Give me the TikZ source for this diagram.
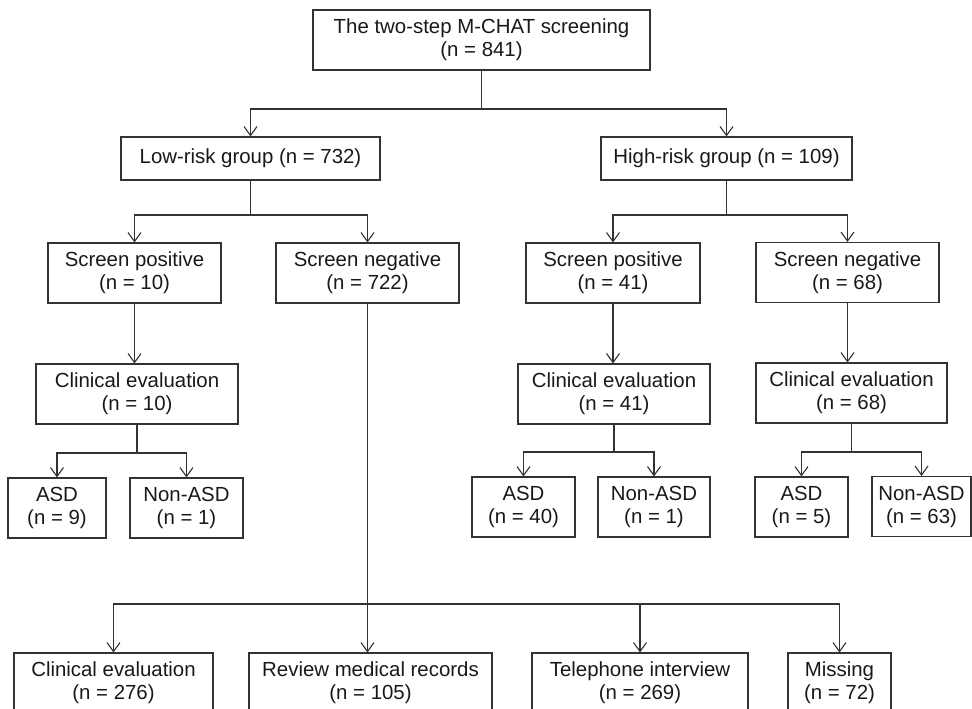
\documentclass[tikz,border=0pt]{standalone}
\usepackage{fontspec}
\setmainfont{Liberation Sans}
\usetikzlibrary{arrows.meta}
\definecolor{linecol}{RGB}{50,50,50}
\begin{document}
\begin{tikzpicture}[x=1pt,y=-1pt,
  box/.style={draw=linecol, line width=1.1pt, rectangle, inner sep=0pt, align=center,
    font=\fontsize{20.4}{23}\selectfont, text=black!90},
  conn/.style={draw=linecol, line width=1.1pt},
  arr/.style={conn, -{Straight Barb[length=9pt,width=13pt,line width=1.1pt]}}]
\useasboundingbox (0,0) rectangle (972,709);
\fill[white] (0,0) rectangle (972,709);
\clip (0,0) rectangle (972,709);

\node[box, minimum width=337pt, minimum height=60pt] (top) at (481.5,40) {The two-step M-CHAT screening\\(n = 841)};
\node[box, minimum width=259pt, minimum height=43pt] (low) at (250.5,158.5) {Low-risk group (n = 732)};
\node[box, minimum width=251pt, minimum height=43pt] (high) at (726.5,158.5) {High-risk group (n = 109)};

\node[box, minimum width=173pt, minimum height=60pt] (spL) at (134.5,273) {Screen positive\\(n = 10)};
\node[box, minimum width=183pt, minimum height=60pt] (snL) at (367.5,273) {Screen negative\\(n = 722)};
\node[box, minimum width=174pt, minimum height=60pt] (spH) at (613,273) {Screen positive\\(n = 41)};
\node[box, minimum width=183pt, minimum height=60pt] (snH) at (847.5,272.5) {Screen negative\\(n = 68)};

\node[box, minimum width=202pt, minimum height=60pt] (ceL) at (137,394) {Clinical evaluation\\(n = 10)};
\node[box, minimum width=192pt, minimum height=60pt] (ceH1) at (614,394) {Clinical evaluation\\(n = 41)};
\node[box, minimum width=191pt, minimum height=60pt] (ceH2) at (851.5,393) {Clinical evaluation\\(n = 68)};

\node[box, minimum width=98pt, minimum height=60pt] (asdL) at (57,508) {ASD\\(n = 9)};
\node[box, minimum width=113pt, minimum height=60pt] (nonL) at (186.5,508) {Non-ASD\\(n = 1)};
\node[box, minimum width=103pt, minimum height=60pt] (asdH1) at (523.5,507) {ASD\\(n = 40)};
\node[box, minimum width=112pt, minimum height=60pt] (nonH1) at (654,507) {Non-ASD\\(n = 1)};
\node[box, minimum width=93pt, minimum height=60pt] (asdH2) at (801.5,507) {ASD\\(n = 5)};
\node[box, minimum width=99pt, minimum height=60pt] (nonH2) at (921.5,506.5) {Non-ASD\\(n = 63)};

\node[box, minimum width=199pt, minimum height=60pt] (ceB) at (113.5,683) {Clinical evaluation\\(n = 276)};
\node[box, minimum width=243pt, minimum height=60pt] (rev) at (370.5,683) {Review medical records\\(n = 105)};
\node[box, minimum width=216pt, minimum height=60pt] (tel) at (640,683) {Telephone interview\\(n = 269)};
\node[box, minimum width=103pt, minimum height=60pt] (miss) at (839.5,683) {Missing\\(n = 72)};

% top fork
\coordinate (f1) at (top.south |- 0,109);
\draw[conn] (top.south) -- (f1);
\draw[arr] (f1) -| (low.north);
\draw[arr] (f1) -| (high.north);

% low-risk fork
\coordinate (f2) at (low.south |- 0,215);
\draw[conn] (low.south) -- (f2);
\draw[arr] (f2) -| (spL.north);
\draw[arr] (f2) -| (snL.north);

% high-risk fork
\coordinate (f3) at (high.south |- 0,215);
\draw[conn] (high.south) -- (f3);
\draw[arr] (f3) -| (spH.north);
\draw[arr] (f3) -| (snH.north);

% screen positive/negative to clinical evaluation
\draw[arr] (spL.south) -- (spL.south |- ceL.north);
\draw[arr] (spH.south) -- (spH.south |- ceH1.north);
\draw[arr] (snH.south) -- (snH.south |- ceH2.north);

% clinical evaluation forks
\coordinate (f4) at (ceL.south |- 0,453);
\draw[conn] (ceL.south) -- (f4);
\draw[arr] (f4) -| (asdL.north);
\draw[arr] (f4) -| (nonL.north);

\coordinate (f5) at (ceH1.south |- 0,452);
\draw[conn] (ceH1.south) -- (f5);
\draw[arr] (f5) -| (asdH1.north);
\draw[arr] (f5) -| (nonH1.north);

\coordinate (f6) at (ceH2.south |- 0,452);
\draw[conn] (ceH2.south) -- (f6);
\draw[arr] (f6) -| (asdH2.north);
\draw[arr] (f6) -| (nonH2.north);

% screen negative (low) to bottom row
\coordinate (f7) at (snL.south |- 0,604);
\draw[arr] (snL.south) -- (snL.south |- rev.north);
\draw[arr] (f7) -| (ceB.north);
\draw[arr] (f7) -| (tel.north);
\draw[arr] (f7) -| (miss.north);
\end{tikzpicture}
\end{document}
